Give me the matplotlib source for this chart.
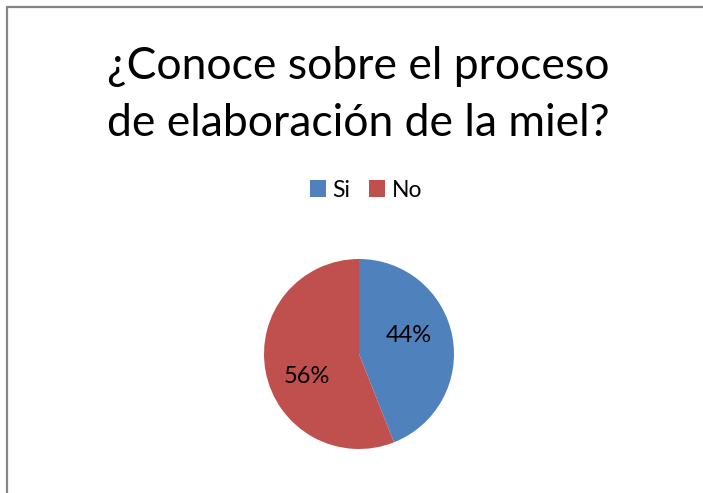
import matplotlib
matplotlib.use("Agg")

import matplotlib.pyplot as plt
from matplotlib.patches import Rectangle

labels = ["Si", "No"]
values = [44, 56]
colors = ["#4F81BD", "#C0504D"]
title = "¿Conoce sobre el proceso\nde elaboración de la miel?"

plt.rcParams["font.family"] = ["Lato", "DejaVu Sans"]

fig = plt.figure(figsize=(7.03, 4.93), dpi=100)
fig.patch.set_facecolor("white")

# chart border (right and bottom edges fall outside the picture)
fig.patches.append(Rectangle((7 / 703, -0.05), 1.2, 1 - 7 / 493 + 0.05,
                             transform=fig.transFigure, fill=False,
                             edgecolor="#868686", linewidth=1.6))

fig.text(358 / 703, 1 - 95 / 493, title, ha="center", va="center",
         fontsize=32, linespacing=1.5, color="black")

ax = fig.add_axes([(359 - 95) / 703, (493 - 354 - 95) / 493, 190 / 703, 190 / 493])
wedges, texts, autotexts = ax.pie(values, colors=colors, startangle=90,
                                  counterclock=False, autopct="%1.0f%%",
                                  pctdistance=0.56, radius=1,
                                  textprops={"fontsize": 17, "color": "black"})
# nudge the percentage labels like the original best-fit placement
for t, (dx, dy) in zip(autotexts, [(-0.03, 0.09), (0.0, -0.13)]):
    x, y = t.get_position()
    t.set_position((x + dx, y + dy))
ax.set_xlim(-1, 1)
ax.set_ylim(-1, 1)
ax.set_aspect("equal")

fig.legend(wedges, labels, loc="center", bbox_to_anchor=(366 / 703, 1 - 190 / 493),
           ncol=2, frameon=False, fontsize=16.5, handlelength=0.7, handleheight=0.7,
           handletextpad=0.3, columnspacing=0.8)

fig.savefig("out.png", dpi=100)
